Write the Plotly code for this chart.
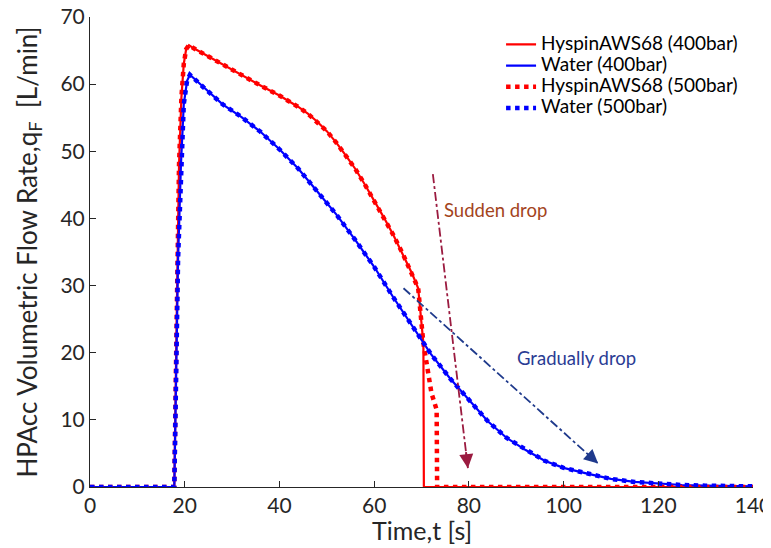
import plotly.graph_objects as go

# ---------------- data ----------------
t_oil_400 = [0, 17.8, 18.3, 18.8, 19.3, 19.8, 20.3, 20.9, 22, 24, 28, 32, 36, 40, 42, 44,
             46, 48, 50, 52, 54, 56, 58, 60, 62, 64, 66, 68, 69.3, 70.4, 70.5, 80, 100,
             120, 140]
q_oil_400 = [0, 0, 25, 48, 58, 63, 65.2, 65.8, 65.3, 64.5, 62.9, 61.3, 59.8, 58.3, 57.5,
             56.6, 55.6, 54.4, 53.0, 51.3, 49.4, 47.4, 45.1, 42.7, 40.2, 37.6, 34.8, 31.8,
             29.6, 21.4, 0, 0, 0, 0, 0]

t_oil_500 = [0, 17.8, 18.3, 18.8, 19.3, 19.8, 20.3, 20.9, 22, 24, 28, 32, 36, 40, 42, 44,
             46, 48, 50, 52, 54, 56, 58, 60, 62, 64, 66, 68, 69.3, 70.4, 71.1, 72.1, 73.2,
             73.3, 80, 100, 120, 140]
q_oil_500 = [0, 0, 25, 48, 58, 63, 65.2, 65.8, 65.3, 64.5, 62.9, 61.3, 59.8, 58.3, 57.5,
             56.6, 55.6, 54.4, 53.0, 51.3, 49.4, 47.4, 45.1, 42.7, 40.2, 37.6, 34.8, 31.8,
             29.6, 21.4, 17.9, 14.0, 11.5, 0, 0, 0, 0, 0]

t_water_400 = [0, 17.8, 18.6, 19.2, 19.8, 20.5, 21.1, 24, 28, 32, 36, 40, 44, 48, 52, 56,
               60, 64, 68, 72, 76, 80, 84, 88, 92, 96, 100, 105, 110, 115, 120, 125,
               130, 135, 140]
q_water_400 = [0, 0, 34, 48, 57, 60.5, 61.4, 59.5, 57.0, 55.1, 52.9, 50.3, 47.4, 44.0,
               40.6, 36.8, 32.8, 28.3, 24.0, 19.8, 16.2, 13.0, 9.8, 7.3, 5.5, 3.9, 2.85,
               2.0, 1.2, 0.75, 0.5, 0.3, 0.2, 0.15, 0.1]

t_water_500 = [0, 17.8, 18.6, 19.2, 19.8, 20.5, 21.1, 24, 28, 32, 36, 40, 44, 48, 52, 56,
               60, 64, 68, 72, 76, 80, 84, 88, 92, 96, 100, 105, 110, 115, 120, 125,
               130, 135, 140]
q_water_500 = [0, 0, 34, 48, 57, 60.5, 61.4, 59.5, 57.0, 55.1, 52.9, 50.3, 47.4, 44.0,
               40.6, 36.8, 32.8, 28.3, 24.0, 19.8, 16.2, 13.0, 9.8, 7.3, 5.5, 3.9, 2.85,
               2.0, 1.2, 0.75, 0.5, 0.3, 0.2, 0.15, 0.1]

series_names = ["HyspinAWS68 (400bar)", "Water (400bar)",
                "HyspinAWS68 (500bar)", "Water (500bar)"]

# annotation arrows: [start, end] in data units
sudden_t = [72.4, 79.8]
sudden_q = [46.6, 2.8]
gradual_t = [66.2, 107.3]
gradual_q = [29.6, 3.5]
sudden_label = ("Sudden drop", 85.6, 41.3)
gradual_label = ("Gradually drop", 102.8, 19.2)

x_ticks = [0, 20, 40, 60, 80, 100, 120, 140]
y_ticks = [0, 10, 20, 30, 40, 50, 60, 70]

x_title = "Time,t [s]"
y_title = "HPAcc Volumetric Flow Rate,q<sub>F</sub>  [L/min]"

FONT = "Lato, 'Open Sans', sans-serif"
TXT = "#262626"
RED = "#FF0000"
BLUE = "#0000FF"
MAROON = "#9B1B40"
NAVY = "#1F3A8C"


def legend_name(s):
    return '<span style="font-size:19px">' + s + '</span>'


fig = go.Figure()

fig.add_trace(go.Scatter(x=t_oil_400, y=q_oil_400, mode="lines", name=legend_name(series_names[0]),
                         line=dict(color=RED, width=2.2)))
fig.add_trace(go.Scatter(x=t_water_400, y=q_water_400, mode="lines", name=legend_name(series_names[1]),
                         line=dict(color=BLUE, width=2.2)))
fig.add_trace(go.Scatter(x=t_oil_500, y=q_oil_500, mode="lines", name=legend_name(series_names[2]),
                         line=dict(color=RED, width=4.5, dash="dot")))
fig.add_trace(go.Scatter(x=t_water_500, y=q_water_500, mode="lines", name=legend_name(series_names[3]),
                         line=dict(color=BLUE, width=4.5, dash="dot")))

# dash-dot arrow shafts
fig.add_trace(go.Scatter(x=sudden_t, y=sudden_q, mode="lines", showlegend=False,
                         hoverinfo="skip", line=dict(color=MAROON, width=1.8, dash="dashdot")))
fig.add_trace(go.Scatter(x=gradual_t, y=gradual_q, mode="lines", showlegend=False,
                         hoverinfo="skip", line=dict(color=NAVY, width=1.8, dash="dashdot")))


def head(ts, qs, color):
    f = 0.06
    return dict(x=ts[1], y=qs[1], xref="x", yref="y",
                ax=ts[1] - (ts[1] - ts[0]) * f, ay=qs[1] - (qs[1] - qs[0]) * f,
                axref="x", ayref="y", text="", showarrow=True,
                arrowhead=2, arrowsize=1.4, arrowwidth=2, arrowcolor=color)


fig.add_annotation(**head(sudden_t, sudden_q, MAROON))
fig.add_annotation(**head(gradual_t, gradual_q, NAVY))

fig.add_annotation(x=sudden_label[1], y=sudden_label[2], text=sudden_label[0],
                   showarrow=False, font=dict(family=FONT, size=18.5, color="#A3441C"))
fig.add_annotation(x=gradual_label[1], y=gradual_label[2], text=gradual_label[0],
                   showarrow=False, font=dict(family=FONT, size=18.5, color="#2A3C94"))

# x-axis title placed just below the tick labels
fig.add_annotation(x=0.5, y=-0.092, xref="paper", yref="paper", text=x_title,
                   showarrow=False, xanchor="center", yanchor="middle",
                   font=dict(family=FONT, size=25, color=TXT))

axis_common = dict(showline=True, linecolor=TXT, linewidth=1, ticks="inside",
                   ticklen=6, tickcolor=TXT, showgrid=False, zeroline=False,
                   automargin=False, ticklabeloverflow="allow",
                   tickfont=dict(family=FONT, size=21, color=TXT))

fig.update_xaxes(range=[0, 140], tickvals=x_ticks, **axis_common)
fig.update_yaxes(range=[0, 70], tickvals=y_ticks, **axis_common,
                 title=dict(text=y_title, font=dict(family=FONT, size=26, color=TXT),
                            standoff=15))

# the page body adds an 8px offset, so margins are reduced accordingly
fig.update_layout(
    width=771, height=548,
    margin=dict(l=82, r=26, t=9, b=69),
    plot_bgcolor="white", paper_bgcolor="white",
    font=dict(family=FONT, color=TXT),
    legend=dict(x=0.62, y=0.975, xanchor="left", yanchor="top",
                bgcolor="rgba(0,0,0,0)", font=dict(family=FONT, size=14, color="black"),
                itemwidth=30, tracegroupgap=0),
    showlegend=True,
)

fig.write_html("out.html")
